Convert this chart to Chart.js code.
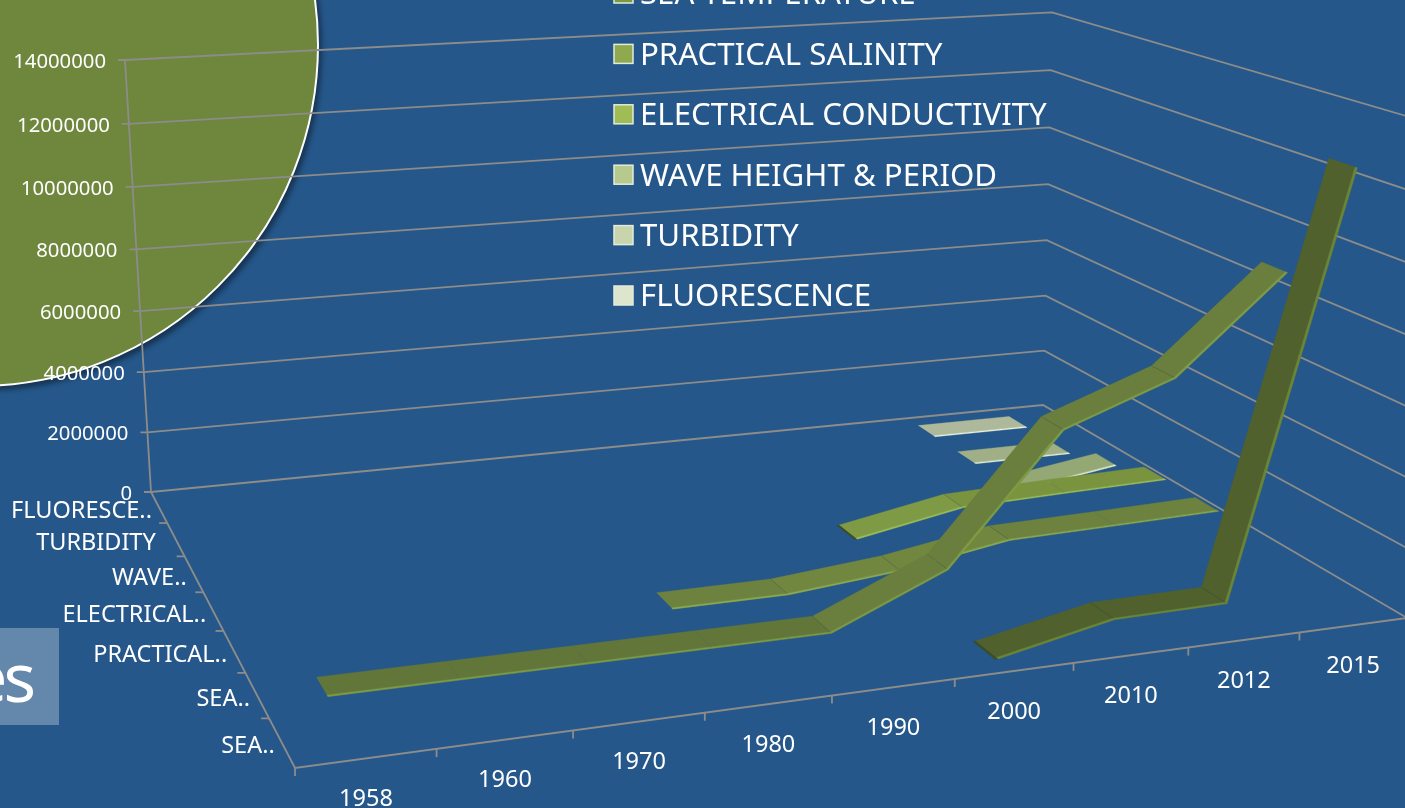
<!DOCTYPE html>
<html><head><meta charset="utf-8">
<style>
html,body{margin:0;padding:0;background:#25578A;width:1405px;height:808px;overflow:hidden}
#disc{position:absolute;left:-365px;top:-297px;width:684px;height:684px;border-radius:50%;background:#6F863D;box-sizing:border-box;border:2px solid #fff;box-shadow:3px 4px 5px rgba(0,0,0,.4)}
#tag{position:absolute;left:0;top:628px;width:59px;height:97px;background:#6388AC;overflow:hidden}
#tag span{position:absolute;right:27px;top:8px;font:68px "Noto Sans",sans-serif;color:#fff;line-height:80px;letter-spacing:-4px}
canvas{position:absolute;left:0;top:0}
</style></head><body>
<div id="disc"></div><div id="tag"><span>es</span></div>
<canvas id="c" width="1405" height="808"></canvas>
<script src="https://cdn.jsdelivr.net/npm/chart.js@4"></script>
<script>
const years=['1958','1960','1970','1980','1990','2000','2010','2012','2015'];
const seriesAxisLabels=['SEA..','SEA..','PRACTICAL..','ELECTRICAL..','WAVE..','TURBIDITY','FLUORESCE..'];
const legendNames=['SEA TEMPERATURE','PRACTICAL SALINITY','ELECTRICAL CONDUCTIVITY','WAVE HEIGHT & PERIOD','TURBIDITY','FLUORESCENCE'];
const valueTicks=[0,2000000,4000000,6000000,8000000,10000000,12000000,14000000];
const seaA=[null,null,null,null,null,25000,720000,760000,12780000];
const seaB=[30000,25000,20000,20000,20000,1460000,5180000,6360000,9150000];
const salinity=[null,null,null,5000,15000,330000,880000,950000,1030000];
const conductivity=[null,null,null,null,null,250000,870000,970000,1050000];
const waveHeight=[null,null,null,null,null,null,null,50000,550000];
const turbidity=[null,null,null,null,null,null,null,5000,10000];
const fluorescence=[null,null,null,null,null,null,null,10000,10000];
const seriesValues=[seaA,seaB,salinity,conductivity,waveHeight,turbidity,fluorescence];
const faceColors=['#50612D','#62763A','#6D823F','#79933F','#93A874','#A0AF85','#ADB99A'];
const risingColors=['#50612D','#6A7F3D','#71873F','#7F9A45','#93A874','#A0AF85','#ADB99A'];
const edgeColors=['#6B8534','#7E9A42','#8BA84C','#9DBD54','#DDE8C0','#E6EDD0','#EEF2DC'];
const swatchColors=['#7A9A40','#8FA94E','#A0BC55','#B5CA8C','#C8D5AC','#DDE5CC'];
const cappedSeries=[0,3];

/* camera: perspective from the floor corners and the vertical vanishing point */
const F0=[295,768],FR=[1407,618],BR=[1043,405],B0=[151,492],VP=[796,11206],TOPY=60;
const NU=years.length,NW=seriesValues.length,VMAX=14000000,DEPTH=0.4,RIB_U=0.48,STRETCH=0.02;
const dx1=FR[0]-BR[0],dx2=B0[0]-BR[0],sx=F0[0]-FR[0]+BR[0]-B0[0];
const dy1=FR[1]-BR[1],dy2=B0[1]-BR[1],sy=F0[1]-FR[1]+BR[1]-B0[1];
const den=dx1*dy2-dx2*dy1;
const g=(sx*dy2-dx2*sy)/den,h=(dx1*sy-sx*dy1)/den;
const a=FR[0]-F0[0]+g*FR[0],b=B0[0]-F0[0]+h*B0[0],c=F0[0];
const d=FR[1]-F0[1]+g*FR[1],e=B0[1]-F0[1]+h*B0[1],f=F0[1];
function floorH(u,w){const s=u/NU,t=w/NW;return [a*s+b*t+c,d*s+e*t+f,g*s+h*t+1];}
const bl=floorH(0,NW);
const K=((bl[1]-TOPY*bl[2])/(TOPY-VP[1]))/VMAX;
function proj(u,w,v){const H=floorH(u,w);const k=K*v*(1+STRETCH*u/NU);const W=H[2]+k;return {x:(H[0]+k*VP[0])/W,y:(H[1]+k*VP[1])/W};}

const ds=[];
const LINE='#8C8C8A';
function poly(points,color,width){ds.push({data:points,showLine:true,borderColor:color,borderWidth:width,pointRadius:0,fill:false,tension:0});}
function quad(points,color){ds.push({data:points,showLine:true,borderColor:color,borderWidth:0.4,backgroundColor:color,pointRadius:0,fill:'shape',tension:0});}
function off(p,dx,dy){return {x:p.x+dx,y:p.y+dy};}

valueTicks.forEach(v=>{
  const p=proj(0,NW,v);
  poly([off(p,-7,0),p,proj(NU,NW,v),proj(NU,0,v)],LINE,1.8);
});
poly([proj(0,NW,0),proj(0,NW,VMAX)],LINE,1.8);
poly([proj(0,NW,0),proj(0,0,0),proj(NU,0,0)],LINE,1.8);
for(let u=0;u<NU;u++){const p=proj(u,0,0);poly([p,off(p,0,8)],LINE,1.8);}
for(let w=1;w<NW;w++){const p=proj(0,w,0);poly([p,off(p,-8,0)],LINE,1.8);}

for(let s=NW-1;s>=0;s--){
  const vals=seriesValues[s];
  const wF=s+0.5-DEPTH/2,wB=s+0.5+DEPTH/2,wE=wF-0.035;
  const first=vals.findIndex(x=>x!==null);
  if(cappedSeries.includes(s)){const u=first+RIB_U,v=vals[first];
    quad([proj(u,wB,v),proj(u,wE,v),proj(u-0.025,wE,v),proj(u-0.025,wB,v)],'#3E4C22');}
  for(let i=first;i<NU-1;i++){
    const u0=i+RIB_U,u1=i+1+RIB_U,v0=vals[i],v1=vals[i+1];
    const rising=(v1-v0)>200000;
    quad([proj(u0,wB,v0),proj(u1,wB,v1),proj(u1,wF,v1),proj(u0,wF,v0)],rising?risingColors[s]:faceColors[s]);
    quad([proj(u0,wF,v0),proj(u1,wF,v1),proj(u1,wE,v1),proj(u0,wE,v0)],edgeColors[s]);
    if(i>first&&Math.abs((v1-v0)-(v0-vals[i-1]))>200000)poly([proj(u0,wB,v0),proj(u0,wF,v0)],'rgba(0,0,0,.1)',1);
  }
}
ds.reverse();

const FONT='"Noto Sans",sans-serif';
const labels={id:'labels',afterDraw(chart){
  const ctx=chart.ctx;ctx.save();ctx.fillStyle='#fff';ctx.textBaseline='middle';
  ctx.font='20.3px '+FONT;ctx.textAlign='right';
  valueTicks.forEach(v=>{const p=proj(0,NW,v);ctx.fillText(String(v),p.x-19,p.y+2);});
  ctx.font='23.5px '+FONT;
  seriesAxisLabels.forEach((t,s)=>{const p=proj(0,s+.5,0);ctx.fillText(t,p.x-(t.endsWith('..')?7:20),p.y+4);});
  ctx.textAlign='center';
  years.forEach((t,i)=>{const p=proj(i+.5,0,0);ctx.fillText(t,p.x-0.5,p.y+41);});
  ctx.textAlign='left';ctx.font='31.2px '+FONT;
  legendNames.forEach((t,i)=>{
    const y=-7+i*60.4;
    ctx.fillStyle=swatchColors[i];ctx.fillRect(614,y-9,19,19);
    ctx.strokeStyle='#E4EADC';ctx.lineWidth=1.5;ctx.strokeRect(614,y-9,19,19);
    ctx.fillStyle='#fff';ctx.fillText(t,640,y+2.5);
  });
  ctx.restore();
}};
new Chart(document.getElementById('c'),{type:'scatter',data:{datasets:ds},plugins:[labels],options:{
  responsive:false,animation:false,layout:{padding:0},events:[],
  scales:{x:{type:'linear',min:0,max:1405,display:false},y:{type:'linear',min:0,max:808,reverse:true,display:false}},
  plugins:{legend:{display:false},tooltip:{enabled:false}}}});
</script></body></html>
